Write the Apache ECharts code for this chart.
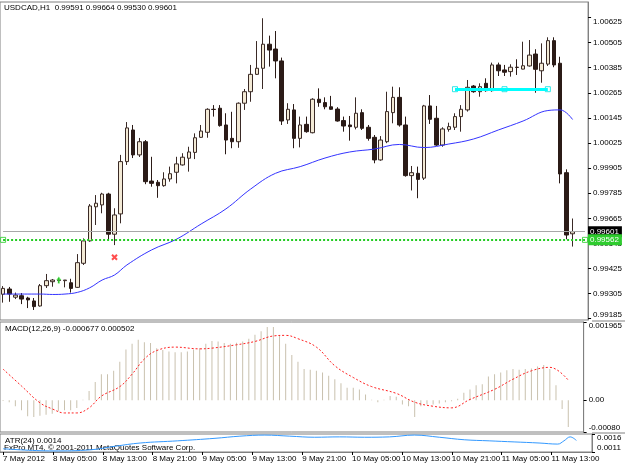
<!DOCTYPE html>
<html>
<head>
<meta charset="utf-8">
<script src="https://cdn.jsdelivr.net/npm/echarts@6/dist/echarts.min.js"></script>
<style>
    html, body { margin: 0; padding: 0; background: #fff; }
    #chart { width: 625px; height: 469px; }
</style>
</head>
<body>
<div id="chart"></div>
<script>
// USDCAD H1, one row per bar: [open, close, low, high]
const ohlc = [
    [0.99302, 0.99330, 0.99262, 0.99341], [0.99327, 0.99303, 0.99266, 0.99337], [0.99288, 0.99298, 0.99279, 0.99310],
    [0.99295, 0.99279, 0.99255, 0.99308], [0.99284, 0.99275, 0.99236, 0.99290], [0.99270, 0.99243, 0.99227, 0.99284],
    [0.99246, 0.99343, 0.99243, 0.99351], [0.99343, 0.99367, 0.99332, 0.99399], [0.99362, 0.99370, 0.99338, 0.99375],
    [0.99368, 0.99370, 0.99356, 0.99380], [0.99367, 0.99370, 0.99335, 0.99370], [0.99357, 0.99330, 0.99310, 0.99376],
    [0.99335, 0.99453, 0.99332, 0.99494], [0.99450, 0.99557, 0.99442, 0.99569], [0.99557, 0.99724, 0.99553, 0.99733],
    [0.99720, 0.99737, 0.99633, 0.99776], [0.99729, 0.99781, 0.99689, 0.99787], [0.99781, 0.99589, 0.99565, 0.99787],
    [0.99589, 0.99681, 0.99537, 0.99713], [0.99686, 0.99936, 0.99641, 0.99968], [0.99936, 1.00097, 0.99920, 1.00125],
    [1.00087, 0.99968, 0.99953, 1.00111], [0.99968, 1.00031, 0.99958, 1.00049], [1.00031, 0.99840, 0.99828, 1.00039],
    [0.99843, 0.99832, 0.99816, 0.99959], [0.99837, 0.99821, 0.99763, 0.99848], [0.99821, 0.99853, 0.99816, 0.99885],
    [0.99853, 0.99878, 0.99840, 0.99912], [0.99885, 0.99925, 0.99832, 0.99959], [0.99920, 0.99957, 0.99917, 0.99976],
    [0.99952, 0.99982, 0.99888, 1.00007], [0.99980, 1.00050, 0.99948, 1.00071], [1.00052, 1.00082, 1.00050, 1.00111],
    [1.00076, 1.00186, 1.00050, 1.00191], [1.00186, 1.00185, 1.00151, 1.00206], [1.00191, 1.00108, 1.00103, 1.00206],
    [1.00111, 1.00039, 0.99971, 1.00167], [1.00047, 1.00031, 1.00000, 1.00174], [1.00031, 1.00215, 1.00002, 1.00219],
    [1.00215, 1.00270, 1.00183, 1.00283], [1.00270, 1.00353, 1.00222, 1.00398], [1.00353, 1.00382, 1.00350, 1.00512],
    [1.00382, 1.00497, 1.00283, 1.00621], [1.00497, 1.00469, 1.00390, 1.00538], [1.00474, 1.00417, 1.00334, 1.00560],
    [1.00417, 1.00130, 1.00111, 1.00433], [1.00135, 1.00186, 1.00116, 1.00215], [1.00183, 1.00047, 1.00000, 1.00211],
    [1.00047, 1.00111, 1.00004, 1.00151], [1.00114, 1.00079, 1.00074, 1.00151], [1.00074, 1.00234, 1.00071, 1.00239],
    [1.00234, 1.00218, 1.00198, 1.00286], [1.00218, 1.00198, 1.00186, 1.00243], [1.00198, 1.00186, 1.00183, 1.00250],
    [1.00187, 1.00130, 1.00127, 1.00196], [1.00132, 1.00106, 1.00079, 1.00151], [1.00111, 1.00103, 1.00036, 1.00154],
    [1.00100, 1.00167, 1.00090, 1.00243], [1.00170, 1.00095, 1.00087, 1.00186], [1.00100, 1.00047, 1.00036, 1.00111],
    [1.00052, 0.99944, 0.99928, 1.00063], [0.99944, 1.00039, 0.99940, 1.00058], [1.00031, 1.00175, 1.00024, 1.00270],
    [1.00170, 1.00243, 1.00119, 1.00294], [1.00243, 1.00111, 1.00103, 1.00291], [1.00111, 0.99869, 0.99864, 1.00151],
    [0.99869, 0.99883, 0.99798, 0.99915], [0.99880, 0.99851, 0.99761, 0.99912], [0.99857, 1.00202, 0.99848, 1.00207],
    [1.00202, 1.00138, 1.00116, 1.00254], [1.00143, 1.00015, 1.00011, 1.00202], [1.00015, 1.00092, 1.00007, 1.00100],
    [1.00090, 1.00103, 1.00079, 1.00122], [1.00100, 1.00151, 1.00087, 1.00167], [1.00151, 1.00186, 1.00079, 1.00206],
    [1.00183, 1.00291, 1.00175, 1.00326], [1.00297, 1.00270, 1.00265, 1.00302], [1.00270, 1.00294, 1.00246, 1.00310],
    [1.00310, 1.00275, 1.00270, 1.00334], [1.00275, 1.00398, 1.00270, 1.00409], [1.00398, 1.00370, 1.00345, 1.00409],
    [1.00374, 1.00363, 1.00345, 1.00398], [1.00366, 1.00387, 1.00342, 1.00401], [1.00387, 1.00386, 1.00350, 1.00425],
    [1.00378, 1.00394, 1.00377, 1.00509], [1.00393, 1.00445, 1.00390, 1.00517], [1.00450, 1.00377, 1.00265, 1.00473],
    [1.00370, 1.00406, 1.00313, 1.00501], [1.00402, 1.00514, 1.00393, 1.00530], [1.00514, 1.00398, 1.00387, 1.00530],
    [1.00406, 0.99877, 0.99832, 1.00437], [0.99883, 0.99585, 0.99565, 0.99899], [0.99591, 0.99601, 0.99530, 0.99664]
];

// blue moving average: [bar, value]
const maPoints = [
    [0, 0.99303], [2, 0.99303], [4, 0.99303], [6, 0.99303], [8, 0.99301], [10, 0.99303], [12, 0.99311],
    [14, 0.99333], [16, 0.99370], [18, 0.99394], [20, 0.99442], [24, 0.99514], [28, 0.99565], [32, 0.99638],
    [36, 0.99710], [40, 0.99805], [44, 0.99880], [48, 0.99912], [52, 0.99953], [56, 0.99982], [60, 0.99996],
    [64, 1.00018], [68, 1.00003], [72, 1.00020], [76, 1.00044], [80, 1.00087], [84, 1.00130], [88, 1.00180],
    [90, 1.00183], [92, 1.00137]
];

// MACD(12,26,9) histogram, one per bar
const macdHist = [
    -0.00002, -0.00005, -0.000153, -0.000255, -0.000407, -0.000424, -0.00039, -0.000365, -0.000339, -0.00028,
    -0.000255, -0.000255, -0.000195, 0.00001, 0.000229, 0.000458, 0.000653, 0.000653, 0.000738, 0.000967,
    0.001273, 0.001417, 0.001519, 0.001459, 0.001434, 0.001307, 0.001264, 0.001222, 0.001205, 0.001205,
    0.001222, 0.001273, 0.001307, 0.001417, 0.001485, 0.001476, 0.001434, 0.001417, 0.001442, 0.001476,
    0.001544, 0.001646, 0.001731, 0.001841, 0.001841, 0.001629, 0.001417, 0.001137, 0.000967, 0.000781,
    0.000764, 0.000738, 0.000696, 0.000611, 0.000526, 0.000424, 0.000314, 0.000314, 0.000271, 0.000144,
    0.00001, -0.00005, 0.00001, 0.000102, 0.000085, -0.00011, -0.000153, -0.000424, -0.000153, -0.00011,
    -0.00011, -0.000085, -0.00005, -0.000025, 0.000034, 0.000187, 0.000271, 0.000373, 0.000399, 0.000594,
    0.000653, 0.000696, 0.000755, 0.000781, 0.000764, 0.000781, 0.000797, 0.000848, 0.000882, 0.000781,
    0.000373, -0.000221, -0.000677
];

// MACD signal line: [bar, value]
const macdSignal = [
    [0, 0.000781], [3, 0.000356], [6, -0.000066], [8, -0.000219], [10, -0.000321], [12, -0.000321],
    [14, -0.000193], [16, 0.000102], [19, 0.000341], [21, 0.000654], [23, 0.001036], [25, 0.001247],
    [28, 0.001334], [32, 0.00129], [34, 0.001308], [38, 0.001392], [41, 0.001476], [44, 0.001614],
    [46, 0.001629], [48, 0.001545], [51, 0.001334], [54, 0.000865], [57, 0.00057], [60, 0.000341],
    [64, 0.000171], [67, -0.000051], [70, -0.000153], [73, -0.000193], [76, 0.000018], [80, 0.000272],
    [83, 0.000527], [86, 0.000738], [89, 0.000825], [92, 0.000502]
];

// ATR(24): [bar, value]
const atrPoints = [
    [0, 0.00119], [8, 0.00113], [14, 0.00116], [18, 0.00126], [22, 0.00135], [28, 0.00141], [34, 0.00148],
    [38, 0.00154], [42, 0.00157], [46, 0.00154], [50, 0.00151], [54, 0.00152], [58, 0.00151], [62, 0.00152],
    [66, 0.00157], [70, 0.00151], [74, 0.00144], [78, 0.00141], [82, 0.00138], [86, 0.00135], [89, 0.00132],
    [90, 0.00141], [91, 0.00152], [92, 0.00142]
];

const timeLabels = ['7 May 2012', '8 May 05:00', '8 May 13:00', '8 May 21:00', '9 May 05:00', '9 May 13:00',
    '9 May 21:00', '10 May 05:00', '10 May 13:00', '10 May 21:00', '11 May 05:00', '11 May 13:00'];
const barsPerLabel = 8;
const priceTicks = [0.99185, 0.99305, 0.99425, 0.99545, 0.99665, 0.99785, 0.99905, 1.00025, 1.00145,
    1.00265, 1.00385, 1.00505, 1.00625];
const macdTicks = [-0.0008, 0, 0.001965];
const atrTicks = [0.0011, 0.0016];

const bidPrice = 0.99601;
const levelPrice = 0.99562;
const cyanPrice = 1.00282, cyanFrom = 73, cyanTo = 88, cyanMid = 81;
const crossPoint = [18, 0.99479];
const arrowPoint = [9, 0.99370];

const font = 'Liberation Sans';
const firstSlot = 0, lastSlot = 94;
const slots = Array.from({length: lastSlot + 1}, (_, i) => i);   // 93 bars + empty shift at right
const border = '#808080';

const isLabelSlot = function (idx) {
    return idx % barsPerLabel === 0 && idx / barsPerLabel < timeLabels.length;
};

const xAxisFor = function (gridIndex, withLabels) {
    return {
        type: 'category', gridIndex: gridIndex, data: slots, boundaryGap: true,
        axisLine: {show: withLabels, lineStyle: {color: border}},
        axisTick: {show: withLabels, interval: isLabelSlot, alignWithLabel: true, length: 3, lineStyle: {color: '#000'}},
        axisLabel: {
            show: withLabels, interval: isLabelSlot, align: 'left', margin: 3,
            fontFamily: font, fontSize: 8, color: '#000',
            formatter: function (v, idx) { return timeLabels[idx / barsPerLabel]; }
        },
        splitLine: {show: false}
    };
};

const yAxisFor = function (gridIndex, min, max, ticks, fmt) {
    return {
        type: 'value', gridIndex: gridIndex, position: 'right', min: min, max: max,
        axisLine: {show: true, lineStyle: {color: border}},
        axisTick: {show: true, length: 3, customValues: ticks, lineStyle: {color: '#000'}},
        axisLabel: {
            customValues: ticks, formatter: fmt, margin: 5, fontFamily: font, fontSize: 8, color: '#000',
            verticalAlignMinLabel: 'bottom', verticalAlignMaxLabel: 'top'
        },
        splitLine: {show: false}
    };
};

const boxLabel = function (text, bg) {
    return {
        show: true, position: 'end', distance: 3, formatter: text, color: '#fff', backgroundColor: bg,
        fontFamily: font, fontSize: 8, padding: [2, 3, 1, 2]
    };
};

// a horizontal level drawn between two bar slots
const level = function (price, from, to, style, label) {
    return [
        {coord: [from, price], lineStyle: style, label: label},
        {coord: [to, price], lineStyle: style, label: label}
    ];
};

const chart = echarts.init(document.getElementById('chart'));

chart.setOption({
    animation: false,
    backgroundColor: '#fff',
    grid: [
        {left: 0, top: 2, width: 592, height: 318, show: true, borderColor: border},
        {left: 0, top: 322, width: 592, height: 110, show: true, borderColor: border},
        {left: 0, top: 434, width: 592, height: 18, show: true, borderColor: border}
    ],
    xAxis: [xAxisFor(0, false), xAxisFor(1, false), xAxisFor(2, true)],
    yAxis: [
        yAxisFor(0, 0.99179, 1.006987, priceTicks, function (v) { return v.toFixed(5); }),
        yAxisFor(1, -0.0008, 0.001965, macdTicks, function (v) {
            return v === 0 ? '0.00' : (v > 0 ? v.toFixed(6) : v.toFixed(5));
        }),
        yAxisFor(2, 0.0011, 0.0016, atrTicks, function (v) { return v.toFixed(4); })
    ],
    series: [
        {
            type: 'candlestick', xAxisIndex: 0, yAxisIndex: 0, data: ohlc, barWidth: 4,
            itemStyle: {color: '#f3ead6', color0: '#2b1b17', borderColor: '#3a2a26', borderColor0: '#2b1b17', borderWidth: 1}
        },
        {
            type: 'line', xAxisIndex: 0, yAxisIndex: 0, data: maPoints, smooth: 0.4, symbol: 'none',
            lineStyle: {color: '#3434ff', width: 1},
            markLine: {
                silent: true, symbol: 'none', animation: false,
                data: [
                    level(bidPrice, firstSlot, lastSlot, {color: '#a8a8a8', width: 1, type: 'solid'},
                        boxLabel(bidPrice.toFixed(5), '#000')),
                    level(levelPrice, firstSlot, lastSlot, {color: '#22cc22', width: 2, type: 'dotted'},
                        boxLabel(levelPrice.toFixed(5), '#2ecc2e')),
                    level(cyanPrice, cyanFrom, cyanTo, {color: '#00ffff', width: 3, type: 'solid'}, {show: false})
                ]
            }
        },
        {
            type: 'scatter', xAxisIndex: 0, yAxisIndex: 0, symbol: 'rect', symbolSize: 5,
            data: [[firstSlot, levelPrice], [lastSlot, levelPrice]],
            itemStyle: {color: '#fff', borderColor: '#22cc22', borderWidth: 1}
        },
        {
            type: 'scatter', xAxisIndex: 0, yAxisIndex: 0, symbol: 'rect', symbolSize: 5,
            data: [[cyanFrom, cyanPrice], [cyanMid, cyanPrice], [cyanTo, cyanPrice]],
            itemStyle: {color: '#fff', borderColor: '#00e0e0', borderWidth: 1}
        },
        {
            type: 'scatter', xAxisIndex: 0, yAxisIndex: 0, symbol: 'path://M0 0L10 10M10 0L0 10', symbolSize: 5,
            data: [crossPoint], itemStyle: {color: 'none', borderColor: '#ff2020', borderWidth: 2}
        },
        {
            type: 'scatter', xAxisIndex: 0, yAxisIndex: 0, symbol: 'path://M5 0L10 5L7 5L7 10L3 10L3 5L0 5Z', symbolSize: [5, 7],
            data: [arrowPoint], itemStyle: {color: '#33dd33'}
        },
        {
            type: 'bar', xAxisIndex: 1, yAxisIndex: 1, data: macdHist, barWidth: 1,
            itemStyle: {color: '#c9c1ae'}
        },
        {
            type: 'line', xAxisIndex: 1, yAxisIndex: 1, data: macdSignal, smooth: 0.4, symbol: 'none',
            lineStyle: {color: '#ff2020', width: 1, type: [2, 2]}
        },
        {
            type: 'line', xAxisIndex: 2, yAxisIndex: 2, data: atrPoints, smooth: 0.4, symbol: 'none',
            lineStyle: {color: '#3399ff', width: 1}
        }
    ],
    graphic: [
        {type: 'text', left: 4, top: 4, style: {text: 'USDCAD,H1  0.99591 0.99664 0.99530 0.99601', font: '8px "Liberation Sans"', fill: '#000'}},
        {type: 'text', left: 5, top: 325, style: {text: 'MACD(12,26,9) -0.000677 0.000502', font: '8px "Liberation Sans"', fill: '#000'}},
        {type: 'text', left: 5, top: 437, style: {text: 'ATR(24) 0.0014', font: '8px "Liberation Sans"', fill: '#000'}},
        {type: 'text', left: 4, top: 444, style: {text: 'FxPro MT4, © 2001-2011 MetaQuotes Software Corp.', font: '8px "Liberation Sans"', fill: '#000'}},
        {type: 'line', shape: {x1: 592, y1: 321, x2: 625, y2: 321}, style: {stroke: border}},
        {type: 'line', shape: {x1: 592, y1: 433, x2: 625, y2: 433}, style: {stroke: border}}
    ]
});
</script>
</body>
</html>
